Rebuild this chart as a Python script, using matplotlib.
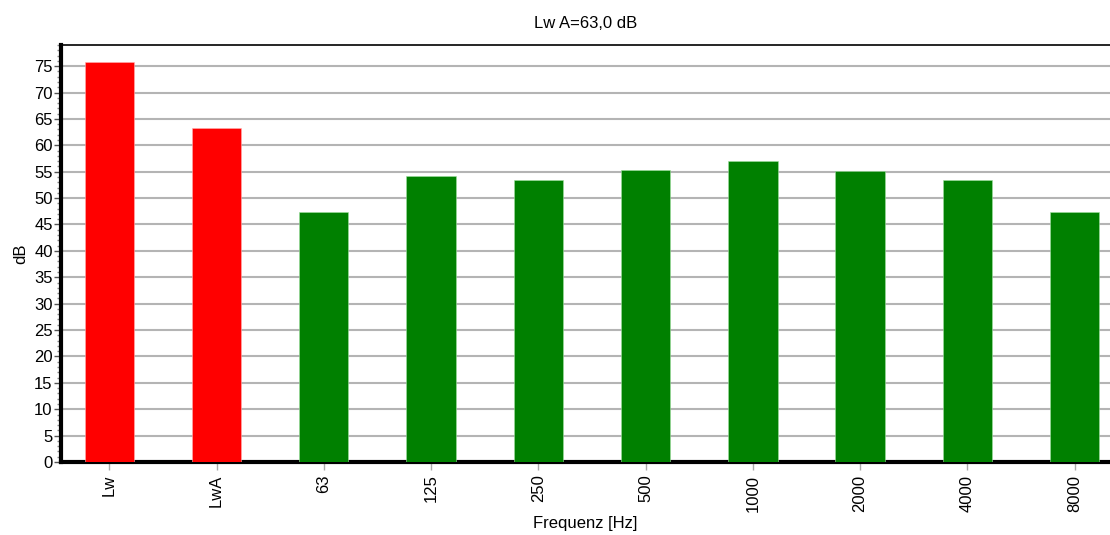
import numpy as np
import matplotlib.pyplot as plt
from matplotlib.ticker import MultipleLocator

plt.rcParams['font.family'] = ['Liberation Sans', 'DejaVu Sans']

# categories and levels (dB)
labels = ['Lw', 'LwA', '63', '125', '250', '500', '1000', '2000', '4000', '8000']
levels = [75.7, 63.2, 47.3, 54.2, 53.4, 55.3, 57.1, 55.2, 53.4, 47.3]
colors = ['#ff0000', '#ff0000'] + ['#008000'] * 8
edges = ['#ffb0b0', '#ffb0b0'] + ['#a0e0a0'] * 8
title = 'Lw A=63,0 dB'

fig = plt.figure(figsize=(11.1, 5.35), dpi=100)
ax = fig.add_axes([0.055, 0.1364, 0.945, 0.7795])

x = np.arange(len(labels))
ax.bar(x, levels, width=0.46, color=colors, edgecolor=edges, linewidth=0.4, zorder=3)

ax.set_xlim(-0.45, len(labels) - 1 + 0.33)
ax.set_ylim(0, 79)
ax.yaxis.set_major_locator(MultipleLocator(5))
ax.yaxis.set_minor_locator(MultipleLocator(1))
ax.grid(axis='y', color='#b4b4b4', linewidth=1.5, zorder=0)

ax.set_xticks(x)
ax.set_xticklabels(labels, rotation=90, fontsize=12)
ax.tick_params(axis='y', which='major', labelsize=12, length=5, width=1, color='#555555', pad=1)
ax.tick_params(axis='y', which='minor', length=3, width=1, color='#888888')
ax.tick_params(axis='x', length=6, width=1, color='#aaaaaa', labelsize=12, pad=3)

for side in ['left', 'bottom']:
    ax.spines[side].set_linewidth(3)
ax.spines['top'].set_linewidth(1.2)
ax.spines['right'].set_visible(False)

ax.set_title(title, fontsize=12, pad=12)
ax.set_ylabel('dB', fontsize=12, labelpad=4)
ax.set_xlabel('Frequenz [Hz]', fontsize=12, labelpad=3)

fig.savefig('out.png', dpi=100)
